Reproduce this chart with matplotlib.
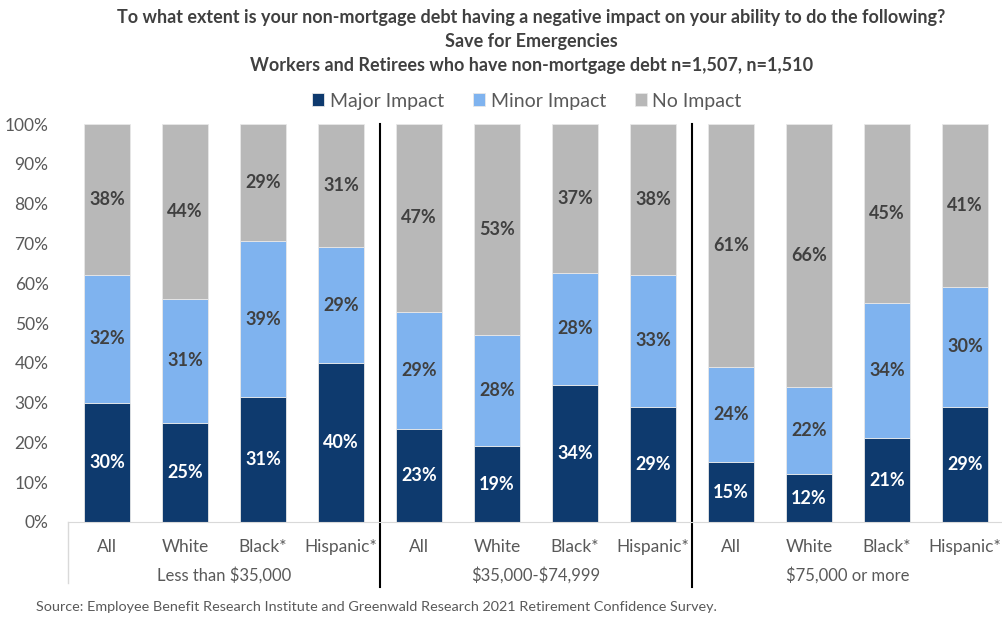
import matplotlib
matplotlib.use("Agg")
import matplotlib.pyplot as plt
import numpy as np

categories = ["All", "White", "Black*", "Hispanic*"] * 3
groups = ["Less than \\$35,000", "\\$35,000-\\$74,999", "\\$75,000 or more"]
major = [30, 25, 31.4, 40, 23.4, 19, 34.4, 29, 15, 12, 21, 29]
minor = [32, 31, 39.2, 29, 29.4, 28, 28.2, 33, 24, 22, 34, 30]
no_impact = [38, 44, 29.4, 31, 47.2, 53, 37.4, 38, 61, 66, 45, 41]
series_names = ["Major Impact", "Minor Impact", "No Impact"]
colors = ["#0E3A6E", "#7FB3EF", "#B8B8B8"]
label_colors = ["white", "#404040", "#404040"]
yticks = [0, 10, 20, 30, 40, 50, 60, 70, 80, 90, 100]

plt.rcParams['font.family'] = ['Lato', 'DejaVu Sans']

fig = plt.figure(figsize=(10.03, 6.18), dpi=100)
W, H = 1003, 618
ax = fig.add_axes([68 / W, (H - 522) / H, 936 / W, 398 / H])

x = np.arange(len(categories))
bottom = np.zeros(len(categories))
handles = []
for vals, name, col, lc in zip([major, minor, no_impact], series_names, colors, label_colors):
    vals = np.array(vals, dtype=float)
    b = ax.bar(x, vals, 0.59, bottom=bottom, color=col, edgecolor="#E8E8E8", linewidth=0.6, label=name)
    handles.append(b)
    for xi, v, bt in zip(x, vals, bottom):
        ax.text(xi, bt + v / 2, f"{round(v):.0f}%", ha="center", va="center",
                color=lc, fontsize=13, fontweight="bold")
    bottom += vals

ax.set_xlim(-0.5, len(categories) - 0.5)
ax.set_ylim(0, 100)
ax.set_yticks(yticks)
ax.set_yticklabels([f"{t}%" for t in yticks], fontsize=12.5, color="#595959")
ax.tick_params(axis="y", length=0, pad=14)
ax.set_xticks(x)
ax.set_xticklabels(categories, fontsize=12.5, color="#595959")
ax.tick_params(axis="x", length=0, pad=12)
for s in ["top", "right", "left"]:
    ax.spines[s].set_visible(False)
ax.spines["bottom"].set_color("#D9D9D9")

# left frame line of category area
ax.plot([-0.5, -0.5], [0, -15.3], color="#D9D9D9", lw=1, clip_on=False)
# group separators
for sep in [3.5, 7.5]:
    ax.plot([sep, sep], [100, -16.3], color="black", lw=1.5, clip_on=False)
# group labels
for gi, g in enumerate(groups):
    ax.text(gi * 4 + 1.5, -13.3, g, ha="center", va="center", fontsize=12, color="#595959")

title_kw = dict(ha="center", va="center", fontsize=13, fontweight="bold", color="#404040")
fig.text(0.53, 1 - 18 / H, "To what extent is your non-mortgage debt having a negative impact on your ability to do the following?", **title_kw)
fig.text(0.53, 1 - 42 / H, "Save for Emergencies", **title_kw)
fig.text(0.53, 1 - 66 / H, "Workers and Retirees who have non-mortgage debt n=1,507, n=1,510", **title_kw)

fig.legend(handles=handles, labels=series_names, loc="center", bbox_to_anchor=(527 / W, 1 - 101 / H),
           ncol=3, frameon=False, fontsize=14, handlelength=0.6, handleheight=0.6,
           handletextpad=0.3, columnspacing=1.5, labelcolor="#595959")

fig.text(36 / W, 1 - 607 / H,
         "Source: Employee Benefit Research Institute and Greenwald Research 2021 Retirement Confidence Survey.",
         ha="left", va="center", fontsize=10.4, color="#595959")

fig.savefig("out.png", dpi=100)
